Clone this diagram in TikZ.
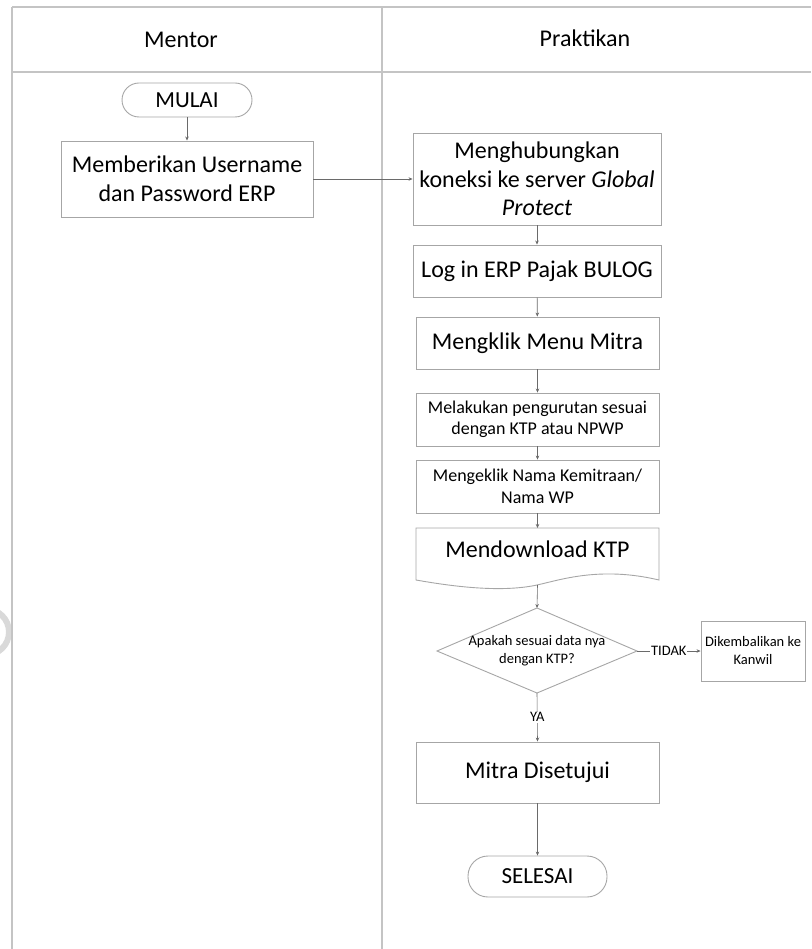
\documentclass[tikz,border=0pt]{standalone}
\usepackage{fontspec}
\setmainfont{Carlito}
\usetikzlibrary{arrows.meta}
\definecolor{tableline}{HTML}{C4C4C4}
\definecolor{boxline}{HTML}{A6A6A6}
\definecolor{arrline}{HTML}{6A6A6A}
\tikzset{
  box/.style={draw=boxline, line width=0.9pt, fill=white, align=center, inner sep=2pt, font=\fontsize{24}{28.5}\selectfont},
  smallbox/.style={box, font=\fontsize{18}{21.5}\selectfont},
  tinybox/.style={box, font=\fontsize{14.5}{18}\selectfont},
  term/.style={box, rounded corners=17pt, font=\fontsize{23}{27}\selectfont},
  flow/.style={draw=arrline, line width=0.6pt, -{Stealth[length=4pt,width=3.5pt]}},
  lab/.style={fill=white, inner sep=1pt, font=\fontsize{14.5}{17}\selectfont},
  lane/.style={draw=tableline, line width=1.1pt},
  hdr/.style={font=\fontsize{24}{28}\selectfont}
}
\begin{document}
\begin{tikzpicture}[x=1pt,y=-1pt]
\useasboundingbox (0,0) rectangle (811,949);
% watermark fragment
\draw[gray!30, line width=6pt] (-14,632) circle (23);
% swimlane table
\draw[lane] (12,7) -- (811,7);
\draw[lane] (12,72) -- (811,72);
\draw[lane] (12,7) -- (12,949);
\draw[lane] (382,7) -- (382,949);
\node[hdr] (hm) at (181,40) {Mentor};
\node[hdr] (hp) at (585,38) {Praktikan};
% mentor lane
\node[term, minimum width=130, minimum height=34] (mulai) at (187,100) {MULAI};
\node[box, minimum width=252, minimum height=76] (give) at (187,179) {Memberikan Username\\dan Password ERP};
% praktikan lane
\node[box, minimum width=248, minimum height=92] (conn) at (537,179) {Menghubungkan\\koneksi ke server \textit{Global}\\\textit{Protect}};
\node[box, minimum width=248, minimum height=52] (login) at (537,271) {Log in ERP Pajak BULOG};
\node[box, minimum width=243, minimum height=52] (menu) at (537.5,343) {Mengklik Menu Mitra};
\node[smallbox, minimum width=243, minimum height=53] (sort) at (537.5,419.5) {Melakukan pengurutan sesuai\\dengan KTP atau NPWP};
\node[smallbox, minimum width=243, minimum height=53] (click) at (537.5,486.5) {Mengeklik Nama Kemitraan/\\Nama WP};
% document shape
\draw[draw=boxline, line width=0.9pt, fill=white] (416,528) -- (659,528) -- (659,580)
  .. controls (600,566) and (560,580) .. (537,585)
  .. controls (500,593) and (450,586) .. (416,580) -- cycle;
\node[font=\fontsize{24}{28}\selectfont] (dl) at (537.5,549) {Mendownload KTP};
\coordinate (dltop) at (537.5,528);
\coordinate (dlbot) at (537.5,585);
% decision
\coordinate (dT) at (537,608);
\coordinate (dR) at (637,651);
\coordinate (dB) at (537,693);
\coordinate (dL) at (437,651);
\draw[draw=boxline, line width=0.9pt, fill=white] (dT) -- (dR) -- (dB) -- (dL) -- cycle;
\node[align=center, font=\fontsize{14.5}{18}\selectfont] (dec) at (537,651) {Apakah sesuai data nya\\dengan KTP?};
\node[tinybox, minimum width=104, minimum height=60] (ret) at (753,651) {Dikembalikan ke\\Kanwil};
\node[box, minimum width=243, minimum height=61] (ok) at (537.5,772.5) {Mitra Disetujui};
\node[term, minimum width=139, minimum height=41, rounded corners=20pt] (sel) at (537.5,876.5) {SELESAI};
% connectors
\draw[flow] (mulai) -- (give);
\draw[flow] (give.east) -- (conn.west);
\draw[flow] (conn) -- (login);
\draw[flow] (login) -- (menu);
\draw[flow] (menu) -- (sort);
\draw[flow] (sort) -- (click);
\draw[flow] (click.south) -- (dltop);
\draw[flow] (dlbot) -- (dT);
\draw[flow] (dR) -- node[lab] (tidak) {TIDAK} (ret.west);
\draw[flow] (dB) -- node[lab, pos=0.5] (ya) {YA} (ok.north);
\draw[flow] (ok) -- (sel);
\end{tikzpicture}
\end{document}
